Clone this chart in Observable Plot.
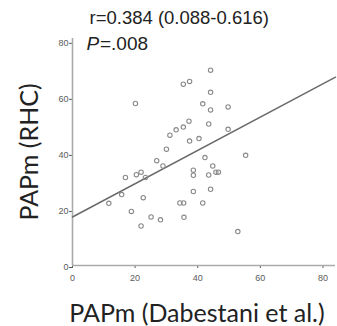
<!DOCTYPE html>
<html><head><meta charset="utf-8">
<script src="https://cdn.jsdelivr.net/npm/d3@7"></script>
<script src="https://cdn.jsdelivr.net/npm/@observablehq/plot@0.6"></script>
<style>body{margin:0;background:#fff}</style>
</head><body><div id="chart"></div>
<script>
const xValues = [11.6, 15.7, 16.9, 18.8, 20.1, 20.4, 21.9, 23.3, 22.6, 21.9, 25.1, 26.9, 28.1, 28.9, 30.0, 31.1, 33.1, 35.4, 37.2, 37.4, 34.3, 35.5, 35.6, 38.6, 38.6, 38.6, 40.4, 35.4, 37.4, 44.1, 44.1, 41.6, 44.1, 49.7, 43.5, 49.7, 55.3, 42.3, 44.8, 43.5, 45.8, 46.6, 44.1, 41.6, 52.8];
const yValues = [22.2, 25.3, 31.4, 19.3, 57.8, 32.4, 33.3, 31.4, 24.2, 14.1, 17.3, 37.4, 16.3, 35.5, 41.5, 46.5, 48.4, 49.4, 51.5, 44.4, 22.3, 22.3, 17.2, 34.0, 32.2, 26.4, 45.3, 64.7, 65.7, 69.7, 61.8, 57.7, 55.5, 56.6, 50.5, 48.6, 39.3, 38.5, 35.5, 32.3, 33.3, 33.3, 27.2, 22.3, 12.1];
const fitX = [0, 84];
const fitY = [17.3, 67.2];
const xTicks = [0, 20, 40, 60, 80];
const yTicks = [0, 20, 40, 60, 80];
const xLabel = "PAPm (Dabestani et al.)";
const yLabel = "PAPm (RHC)";
const statText = "r=0.384 (0.088-0.616)";
const pLetter = "P";
const pValue = "=.008";

const points = xValues.map((x, i) => ({x, y: yValues[i]}));
const fit = fitX.map((x, i) => ({x, y: fitY[i]}));

const chart = Plot.plot({
  width: 337, height: 326,
  marginLeft: 72, marginRight: 2, marginTop: 38, marginBottom: 61,
  style: {background: "white", fontFamily: "Liberation Sans, Arial, sans-serif", overflow: "visible"},
  x: {domain: [0, 84]},
  y: {domain: [0, 81]},
  marks: [
    Plot.axisX({ticks: xTicks, tickSize: 3, tickPadding: 6, fontSize: 9, color: "#5a5a5a", label: null}),
    Plot.axisY({ticks: yTicks, tickSize: 3, tickPadding: 1, fontSize: 9, color: "#5a5a5a", label: null, dy: 2}),
    Plot.ruleX([0], {stroke: "#aaa", strokeWidth: 1.6}),
    Plot.ruleY([0], {stroke: "#aaa", strokeWidth: 1.6}),
    Plot.line(fit, {x: "x", y: "y", stroke: "#6a6a6a", strokeWidth: 1.5}),
    Plot.dot(points, {x: "x", y: "y", r: 2.2, stroke: "#8a8a8a", strokeWidth: 1.1, fill: "none"}),
    Plot.text([xLabel], {frameAnchor: "bottom", textAnchor: "middle", lineAnchor: "middle", dx: -7, dy: 48.7, fontSize: 25, fill: "#222", fontFamily: "Lato"}),
    Plot.text([yLabel], {frameAnchor: "left", textAnchor: "middle", lineAnchor: "middle", dx: -42.7, dy: 0, rotate: -90, fontSize: 25, fill: "#222", fontFamily: "Lato"}),
    Plot.text([statText], {frameAnchor: "top-left", textAnchor: "start", lineAnchor: "middle", dx: 17, dy: -20, fontSize: 18.5, fill: "#222"}),
    Plot.text([pLetter], {frameAnchor: "top-left", textAnchor: "start", lineAnchor: "middle", dx: 14, dy: 5, fontSize: 19, fill: "#222", fontStyle: "italic"}),
    Plot.text([pValue], {frameAnchor: "top-left", textAnchor: "start", lineAnchor: "middle", dx: 27.5, dy: 5, fontSize: 19, fill: "#222"})
  ]
});
document.getElementById("chart").appendChild(chart);
</script>
</body></html>
